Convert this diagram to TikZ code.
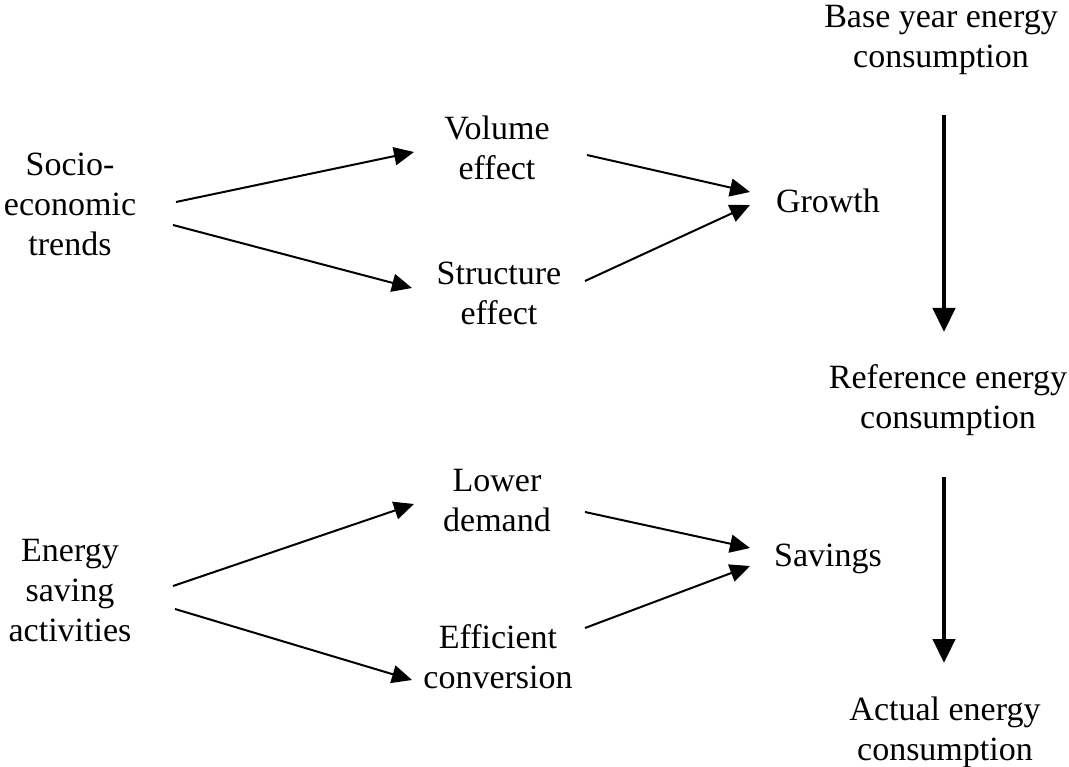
\documentclass[tikz,border=0pt]{standalone}
\usepackage{fontspec}
\setmainfont{Liberation Serif}
\usetikzlibrary{arrows.meta}
\begin{document}
\begin{tikzpicture}[x=1pt,y=-1pt,
  lbl/.style={align=center,inner sep=0pt,font=\fontsize{34}{40}\selectfont},
  thin/.style={line width=2pt,-{Triangle[length=20pt,width=18pt]}},
  thick/.style={line width=4.5pt,-{Triangle[length=24pt,width=22pt]}}]
\useasboundingbox (0,0) rectangle (1069,767);
% text nodes
\node[lbl] (base) at (941,40) {Base year energy\\consumption};
\node[lbl] (ref) at (948,400) {Reference energy\\consumption};
\node[lbl] (actual) at (945,732) {Actual energy\\consumption};
\node[lbl] (socio) at (70,204) {Socio-\\economic\\trends};
\node[lbl] (volume) at (497,148) {Volume\\effect};
\node[lbl] (structure) at (499,293) {Structure\\effect};
\node[lbl] (growth) at (828,201) {Growth};
\node[lbl] (energy) at (70,591) {Energy\\saving\\activities};
\node[lbl] (lower) at (497,501) {Lower\\demand};
\node[lbl] (efficient) at (498,657) {Efficient\\conversion};
\node[lbl] (savings) at (828,559) {Savings};
% growth branch
\draw[thin] ([shift={(106,-2)}]socio.center) -- ([shift={(-83,4)}]volume.center);
\draw[thin] ([shift={(103,21)}]socio.center) -- ([shift={(-87,-5)}]structure.center);
\draw[thin] ([shift={(90,7)}]volume.center) -- ([shift={(-78,-9)}]growth.center);
\draw[thin] ([shift={(86,-12)}]structure.center) -- ([shift={(-78,4)}]growth.center);
% savings branch
\draw[thin] ([shift={(103,-5)}]energy.center) -- ([shift={(-83,3)}]lower.center);
\draw[thin] ([shift={(105,18)}]energy.center) -- ([shift={(-86,23)}]efficient.center);
\draw[thin] ([shift={(88,11)}]lower.center) -- ([shift={(-78,-11)}]savings.center);
\draw[thin] ([shift={(87,-29)}]efficient.center) -- ([shift={(-78,7)}]savings.center);
% consumption chain
\draw[thick] ([shift={(3,75)}]base.center) -- ([shift={(-4,-68)}]ref.center);
\draw[thick] ([shift={(-4,77)}]ref.center) -- ([shift={(-1,-69)}]actual.center);
\end{tikzpicture}
\end{document}
